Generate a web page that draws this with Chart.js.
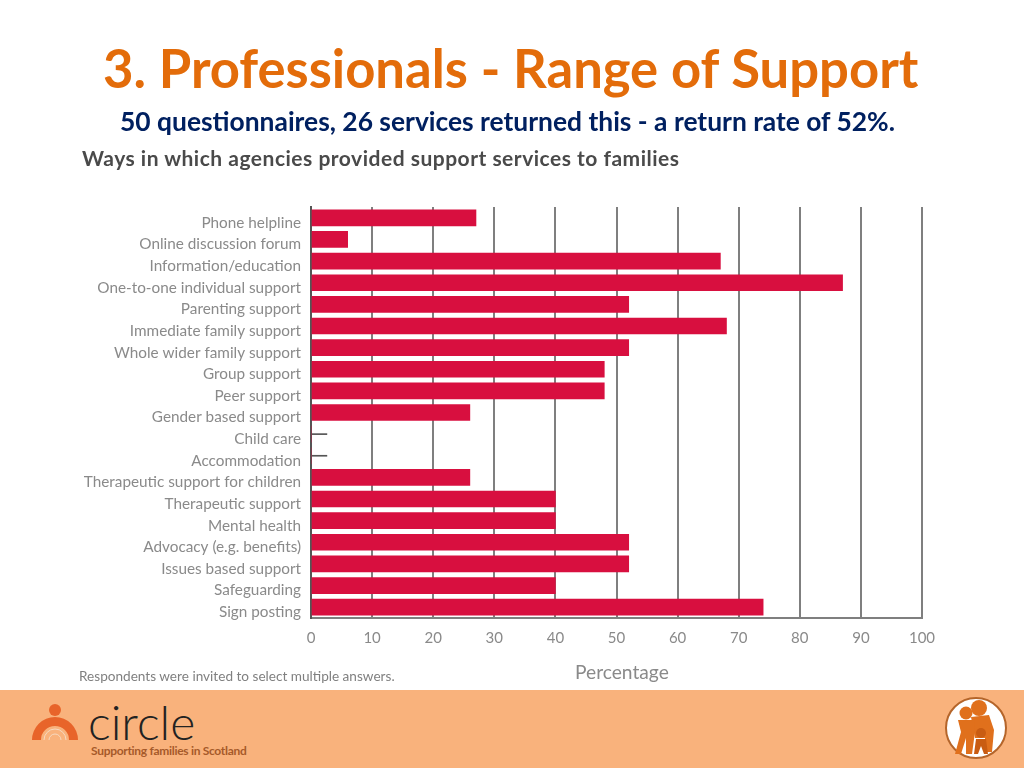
<!DOCTYPE html>
<html>
<head>
<meta charset="utf-8">
<title>Range of Support</title>
<script src="https://cdn.jsdelivr.net/npm/chart.js@4"></script>
<style>
  html, body { margin: 0; padding: 0; background: #fff; }
  body { width: 1024px; height: 768px; position: relative; overflow: hidden; font-family: Lato, sans-serif; }
  #chartBox { position: absolute; left: 0; top: 0; width: 1024px; height: 768px; }
  .txt { position: absolute; white-space: nowrap; }
  #slideTitle { left: 103px; top: 38px; font-size: 52.6px; line-height: 60px; font-weight: 700; color: #E36C0A; }
  #subTitle { left: 120px; top: 106px; font-size: 26.4px; line-height: 30px; font-weight: 700; color: #002060; }
  #heading { left: 82px; top: 145px; font-size: 21px; line-height: 26px; font-weight: 700; letter-spacing: 0.5px; color: #4a4a4a; }
  #note { left: 79px; top: 667px; font-size: 13.6px; line-height: 18px; color: #808080; }
  #axisTitle { left: 575px; top: 660px; font-size: 19.2px; line-height: 24px; color: #8a8a8a; }
  #band { position: absolute; left: 0; top: 690px; width: 1024px; height: 78px; background: #F9B27C; }
  #logoWord { left: 88px; top: 695px; font-size: 48px; line-height: 54px; font-weight: 300; color: #222; }
  #logoTag { left: 91px; top: 743px; font-size: 12px; line-height: 16px; font-weight: 700; letter-spacing: -0.3px; color: #A65A2A; }
  svg { position: absolute; left: 0; top: 0; }
</style>
</head>
<body>
<div id="chartBox"><canvas id="supportChart"></canvas></div>
<div id="slideTitle" class="txt">3. Professionals - Range of Support</div>
<div id="subTitle" class="txt">50 questionnaires, 26 services returned this - a return rate of 52%.</div>
<div id="heading" class="txt">Ways in which agencies provided support services to families</div>
<div id="note" class="txt">Respondents were invited to select multiple answers.</div>
<div id="axisTitle" class="txt">Percentage</div>
<div id="band"></div>
<svg width="1024" height="768">
  <!-- circle logo -->
  <path d="M32 740 A23 23 0 0 1 78 740 L69 740 A14 14 0 0 0 41 740 Z" fill="#E8642A"/>
  <circle cx="55" cy="710" r="6" fill="#E8642A"/>
  <path d="M44 740 A11 11 0 0 1 66 740 M49 740 A6 6 0 0 1 61 740" fill="none" stroke="#F6D9C0" stroke-width="1"/>
  <!-- family badge -->
  <circle cx="976" cy="728" r="30" fill="#fff" stroke="#B5652A" stroke-width="2"/>
  <g fill="#E0701C">
    <circle cx="979" cy="708" r="8"/>
    <circle cx="966" cy="713" r="6.5"/>
    <path d="M971 717 L989 715 L994 730 L992 752 L985 752 L985 738 L975 738 Z"/>
    <path d="M958 720 L974 720 L975 732 L972 754 L966 754 L966 738 L961 754 L955 754 L961 732 Z"/>
  </g>
  <g fill="#C95C12">
    <circle cx="981" cy="733" r="5"/>
    <path d="M976 739 L986 739 L988 754 L984 754 L981 746 L978 754 L974 754 Z"/>
  </g>
</svg>
<div id="logoWord" class="txt">circle</div>
<div id="logoTag" class="txt">Supporting families in Scotland</div>

<script>
const categories = [
  'Phone helpline', 'Online discussion forum', 'Information/education',
  'One-to-one individual support', 'Parenting support', 'Immediate family support',
  'Whole wider family support', 'Group support', 'Peer support', 'Gender based support',
  'Child care', 'Accommodation', 'Therapeutic support for children', 'Therapeutic support',
  'Mental health', 'Advocacy (e.g. benefits)', 'Issues based support', 'Safeguarding', 'Sign posting',
];
const percentages = [27, 6, 67, 87, 52, 68, 52, 48, 48, 26, 0, 0, 26, 40, 40, 52, 52, 40, 74];
// the two empty rows only have a short dark stub in the original
const stubs = [null, null, null, null, null, null, null, null, null, null, 2.6, 2.6, null, null, null, null, null, null, null];

const greyText = '#8a8a8a';
const gridGrey = '#7f7f7f';

Chart.defaults.font.family = 'Lato, sans-serif';

new Chart(document.getElementById('supportChart'), {
  type: 'bar',
  data: {
    labels: categories,
    datasets: [
      { data: percentages, backgroundColor: '#D80F3F', barThickness: 16, grouped: false },
      { data: stubs, backgroundColor: '#555555', barThickness: 1, grouped: false },
    ],
  },
  options: {
    indexAxis: 'y',
    responsive: true,
    maintainAspectRatio: false,
    animation: false,
    layout: { padding: { top: 207, right: 102, left: 0, bottom: 0 } },
    plugins: { legend: { display: false }, tooltip: { enabled: false } },
    scales: {
      x: {
        min: 0,
        max: 100,
        afterFit: (scale) => { scale.height = 150; },
        ticks: { stepSize: 10, color: greyText, font: { size: 15 }, padding: 11, maxRotation: 0 },
        grid: { color: gridGrey, lineWidth: 2, drawTicks: false },
        border: { color: gridGrey, width: 2 },
      },
      y: {
        afterFit: (scale) => { scale.width = 311; },
        ticks: { color: greyText, font: { size: 15.3 }, padding: 2, autoSkip: false, labelOffset: 5 },
        grid: { display: false },
        border: { color: '#555555', width: 2 },
      },
    },
  },
});
</script>
</body>
</html>
